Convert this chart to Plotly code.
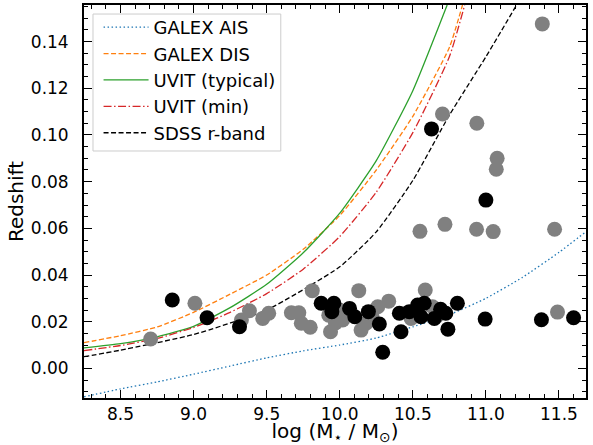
import plotly.graph_objects as go

# ---- detection-limit curves ----
ais_x = [8.25, 8.5, 8.75, 9.0, 9.25, 9.5, 9.75, 10.0, 10.25, 10.5, 10.75, 11.0, 11.25, 11.5, 11.685]
ais_y = [-0.0122, -0.0088, -0.0058, -0.0025, 0.0010, 0.0045, 0.0075, 0.0100, 0.0130, 0.0178, 0.0230,
         0.0300, 0.0390, 0.0497, 0.0586]

dis_x = [8.25, 8.5, 8.75, 9.0, 9.25, 9.5, 9.75, 10.0, 10.25, 10.5, 10.75, 10.84]
dis_y = [0.0110, 0.0140, 0.0177, 0.0240, 0.0318, 0.0400, 0.0510, 0.0655, 0.0850, 0.1080, 0.1375, 0.1557]

uvt_x = [8.25, 8.5, 8.75, 9.0, 9.25, 9.5, 9.75, 10.0, 10.25, 10.5, 10.735]
uvt_y = [0.0088, 0.0106, 0.0135, 0.0180, 0.0260, 0.0360, 0.0495, 0.0665, 0.0890, 0.1190, 0.1557]

uvm_x = [8.25, 8.5, 8.75, 9.0, 9.25, 9.5, 9.75, 10.0, 10.25, 10.5, 10.75, 10.855]
uvm_y = [0.0076, 0.0098, 0.0128, 0.0175, 0.0240, 0.0320, 0.0425, 0.0565, 0.0755, 0.1010, 0.1335, 0.1557]

sdss_x = [8.25, 8.5, 9.0, 9.5, 10.0, 10.25, 10.5, 10.75, 11.0, 11.21]
sdss_y = [0.0050, 0.0078, 0.0145, 0.0250, 0.0435, 0.0585, 0.0805, 0.1085, 0.1335, 0.1557]

# ---- galaxies ----
gray_x = [8.706, 9.009, 9.327, 9.382, 9.473, 9.514, 9.669, 9.72, 9.737, 9.798, 9.812, 9.925,
          9.937, 9.998, 10.02, 9.97, 10.13, 10.146, 10.18, 10.22, 10.26, 10.335, 10.488, 10.585,
          10.635, 10.66, 10.549, 10.72, 10.703, 10.938, 10.936, 11.05, 11.077, 11.071, 11.386,
          11.47, 11.49]
gray_y = [0.0126, 0.0279, 0.0207, 0.0247, 0.0214, 0.0236, 0.0238, 0.0238, 0.0193, 0.0176, 0.0333, 0.0228,
          0.0157, 0.0250, 0.0207, 0.0195, 0.0333, 0.0164, 0.0193, 0.0225, 0.0264, 0.0288, 0.0214, 0.0336,
          0.0264, 0.0221, 0.0587, 0.0617, 0.1090, 0.1050, 0.0596, 0.0586, 0.0900, 0.0853, 0.1476,
          0.0596, 0.0241]

black_x = [8.854, 9.092, 9.314, 9.873, 9.96, 9.946, 10.067, 10.103, 10.196, 10.271, 10.294, 10.408,
           10.419, 10.476, 10.533, 10.578, 10.556, 10.647, 10.69, 10.726, 10.74, 10.805, 10.995,
           11.38, 11.60, 11.0, 10.628]
black_y = [0.0293, 0.0217, 0.0178, 0.0279, 0.0279, 0.0243, 0.0257, 0.0221, 0.0243, 0.0190, 0.0069, 0.0236,
           0.0157, 0.0243, 0.0271, 0.0279, 0.0221, 0.0214, 0.0253, 0.0236, 0.0168, 0.0279, 0.0211,
           0.0208, 0.0217, 0.0721, 0.1026]

x_ticks = [8.5, 9.0, 9.5, 10.0, 10.5, 11.0, 11.5]
y_ticks = [0.00, 0.02, 0.04, 0.06, 0.08, 0.10, 0.12, 0.14]

FONT = "DejaVu Sans"
fig = go.Figure()

curves = [
    ("GALEX AIS", ais_x, ais_y, "#1f77b4", "1.5px,2.5px"),
    ("GALEX DIS", dis_x, dis_y, "#ff7f0e", "5px,2.5px"),
    ("UVIT (typical)", uvt_x, uvt_y, "#2ca02c", "solid"),
    ("UVIT (min)", uvm_x, uvm_y, "#d62728", "8px,2.5px,1.5px,2.5px"),
    ("SDSS r-band", sdss_x, sdss_y, "#000000", "5px,2.5px"),
]
for name, xs, ys, col, dash in curves:
    fig.add_trace(go.Scatter(x=xs, y=ys, mode="lines", name=name,
                             line=dict(color=col, width=1.3, dash=dash, shape="spline", smoothing=0.5)))

fig.add_trace(go.Scatter(x=gray_x, y=gray_y, mode="markers", showlegend=False,
                         marker=dict(color="#808080", size=15, line=dict(width=0))))
fig.add_trace(go.Scatter(x=black_x, y=black_y, mode="markers", showlegend=False,
                         marker=dict(color="#000000", size=15, line=dict(width=0))))

axis_common = dict(showgrid=False, zeroline=False, showline=True, linecolor="black", linewidth=1.8,
                   mirror="allticks", ticks="inside", ticklen=8, tickwidth=1.3, tickcolor="black",
                   automargin=False,
                   tickfont=dict(family=FONT, size=17, color="black"))

fig.update_xaxes(range=[8.25, 11.685], tickvals=x_ticks, ticktext=[f"{v:.1f}" for v in x_ticks],
                 minor=dict(ticks="inside", ticklen=4, dtick=0.1, tick0=8.5, tickcolor="black", tickwidth=1),
                 title=dict(text="log (M<sub>⋆</sub> / M<sub>⊙</sub>)", font=dict(family=FONT, size=20, color="black"),
                            standoff=1),
                 ticklabelstandoff=0, **axis_common)
fig.update_yaxes(range=[-0.0127, 0.1557], tickvals=y_ticks, ticktext=[f"{v:.2f}" for v in y_ticks],
                 minor=dict(ticks="inside", ticklen=4, dtick=0.005, tick0=0, tickcolor="black", tickwidth=1),
                 title=dict(text="Redshift", font=dict(family=FONT, size=20, color="black"), standoff=2),
                 ticklabelstandoff=10, **axis_common)

# legend frame (matplotlib-style box)
fig.add_shape(type="rect", xref="paper", yref="paper", x0=0.0179, x1=0.392, y0=0.6285, y1=0.977,
              line=dict(color="#cccccc", width=1), fillcolor="rgba(255,255,255,0.8)", layer="above")

fig.update_layout(
    width=593, height=445,
    margin=dict(l=84, r=7, t=5, b=47),
    paper_bgcolor="white", plot_bgcolor="white",
    font=dict(family=FONT, color="black"),
    legend=dict(x=0.029, y=0.99, xanchor="left", yanchor="top",
                bgcolor="rgba(0,0,0,0)", borderwidth=0,
                font=dict(family=FONT, size=18, color="black"), tracegroupgap=0, itemwidth=45),
)

fig.write_html("out.html", config={"displayModeBar": False},
               post_script="document.body.style.margin='0';document.body.style.overflow='hidden';")
